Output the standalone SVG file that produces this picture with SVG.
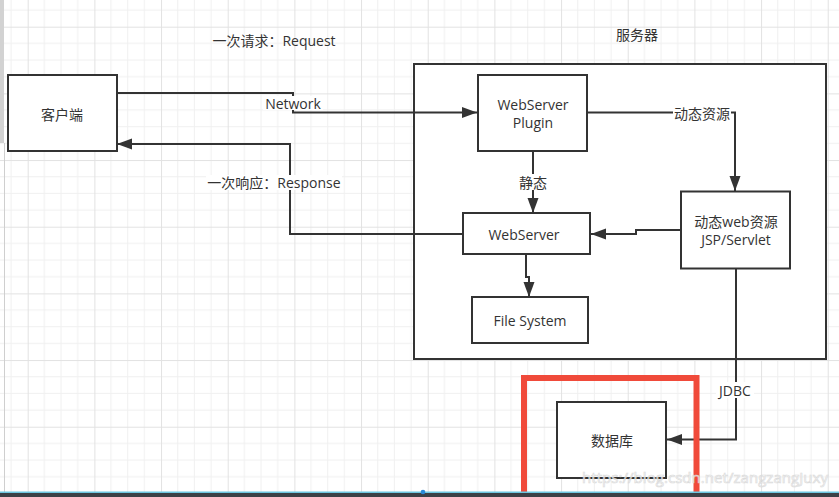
<svg xmlns="http://www.w3.org/2000/svg" width="839" height="497" viewBox="0 0 839 497">
<style>
.box{fill:#fff;stroke:#333;stroke-width:2}
.t{font-family:"Open Sans","Noto Sans CJK SC",sans-serif;font-size:14px;fill:#333;text-anchor:middle;dominant-baseline:central}
.c{fill:none;stroke:#333;stroke-width:2;marker-end:url(#ah)}
.lbg{fill:#fff}
</style>
<defs>
<pattern id="grid" patternUnits="userSpaceOnUse" x="27.7" y="26.7" width="66.67" height="66.67">
<path d="M16.67 0V66.67M33.33 0V66.67M50 0V66.67M0 16.67H66.67M0 33.33H66.67M0 50H66.67" stroke="#f0f0f0" stroke-width="1" fill="none"/>
<path d="M0.5 0V66.67M0 0.5H66.67" stroke="#e2e2e2" stroke-width="1" fill="none"/>
</pattern>
<marker id="ah" markerUnits="userSpaceOnUse" markerWidth="16" markerHeight="12" refX="15" refY="5.5" orient="auto">
<path d="M0,0 L15,5.5 L0,11 Z" fill="#333"/>
</marker>
</defs>
<rect width="839" height="497" fill="#fff"/>
<rect width="839" height="497" fill="url(#grid)"/>
<rect x="0" y="0" width="4" height="143" fill="#d2d2d2"/>
<line x1="4.5" y1="143" x2="4.5" y2="492" stroke="#cfcfcf" stroke-width="1"/>

<text class="t" x="274" y="40">一次请求：Request</text>
<text class="t" x="637" y="34">服务器</text>

<g id="server">
<rect x="414" y="64" width="412" height="295" class="box"/>
</g>

<g id="connectors">
<path class="c" d="M117,93 H293 V112.5 H477"/>
<rect class="lbg" x="263" y="96" width="60" height="14"/>
<text class="t" x="293" y="103">Network</text>

<path class="c" d="M463,234 H290 V144 H117"/>
<rect class="lbg" x="206" y="175" width="136" height="15"/>
<text class="t" x="274" y="182.5">一次响应：Response</text>

<path class="c" d="M533,151 V213"/>
<rect class="lbg" x="518" y="174" width="30" height="16"/>
<text class="t" x="533" y="182">静态</text>

<path class="c" d="M587,112.5 H735 V191"/>
<rect class="lbg" x="673" y="106" width="58" height="16"/>
<text class="t" x="702" y="113.5">动态资源</text>

<path class="c" d="M681,230 H636 V234 H591"/>

<path class="c" d="M526,254 V277 H529 V297"/>

<path class="c" d="M736,268 V439.5 H667"/>
<rect class="lbg" x="716" y="382" width="38" height="16"/>
<text class="t" x="735" y="390">JDBC</text>
</g>

<g id="client">
<rect x="8" y="75" width="109" height="76" class="box"/>
<text class="t" x="62" y="114">客户端</text>
</g>

<g id="plugin">
<rect x="478" y="75" width="109" height="76" class="box"/>
<text class="t" x="533" y="104">WebServer</text>
<text class="t" x="533" y="122">Plugin</text>
</g>

<g id="webserver">
<rect x="463" y="213" width="127" height="41" class="box"/>
<text class="t" x="524" y="234">WebServer</text>
</g>

<g id="dynamic">
<rect x="681" y="191.5" width="109" height="77" class="box"/>
<text class="t" x="736" y="221.5">动态web资源</text>
<text class="t" x="736" y="239.5">JSP/Servlet</text>
</g>

<g id="filesystem">
<rect x="472" y="297" width="116" height="46" class="box"/>
<text class="t" x="530" y="320.5">File System</text>
</g>

<g id="database">
<rect x="557" y="402" width="109" height="76" class="box"/>
<text class="t" x="612" y="440">数据库</text>
</g>

<rect x="524" y="378" width="172.5" height="130" fill="none" stroke="#f04a3a" stroke-width="6"/>

<text x="582" y="483" font-family="'Open Sans',sans-serif" font-size="15" textLength="246" fill="#fff" stroke="#d6d6d6" stroke-width="0.7" opacity="0.85">https://blog.csdn.net/zangzangJuxy</text>

<rect x="0" y="491.5" width="839" height="1.5" fill="#6cc6e0"/>
<rect x="0" y="493" width="839" height="4" fill="#3c4046"/>
<circle cx="423" cy="492" r="2.3" fill="#2a8ad8"/>
</svg>
